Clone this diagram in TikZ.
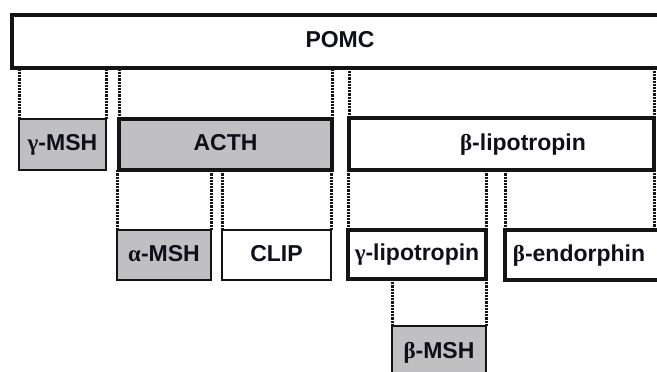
\documentclass[tikz,border=0pt]{standalone}
\usepackage{fontspec}
\setmainfont{Liberation Sans}
\newfontfamily\grk{Liberation Serif}
\newcommand{\gk}[1]{{\grk\bfseries #1}}
\definecolor{edge}{RGB}{20,20,20}
\definecolor{ink}{RGB}{15,15,25}
\definecolor{pgray}{RGB}{192,192,194}
\begin{document}
\begin{tikzpicture}[x=1pt,y=-1pt,
  lbl/.style={font=\fontsize{23}{27}\selectfont\bfseries, text=ink},
  box/.style={draw=edge, inner sep=0pt, outer sep=0pt, anchor=north west,
              text height=16.5pt, text depth=4pt, lbl},
  thickbox/.style={box, line width=3.4pt},
  thinbox/.style={box, line width=2.4pt},
  shaded/.style={fill=pgray},
  dotline/.style={draw=edge, line width=3pt, dash pattern=on 2.2pt off 1pt}]
\path[use as bounding box] (0,0) rectangle (657,372);
\clip (0,0) rectangle (657,372);

% precursor
\node[thickbox, minimum width=656pt, minimum height=53pt] (pomc) at (12,15) {POMC};

% first cleavage products
\node[thinbox, shaded, minimum width=87pt, minimum height=51pt] (gmsh) at (19,119) {\gk{γ}-MSH};
\node[thickbox, shaded, minimum width=213pt, minimum height=51pt] (acth) at (119,119) {ACTH};
\node[thickbox, minimum width=305pt, minimum height=52pt] (blip) at (349,118) {\hspace*{43pt}\gk{β}-lipotropin};

% second cleavage products
\node[thinbox, shaded, minimum width=94pt, minimum height=50pt] (amsh) at (117,230) {\gk{α}-MSH};
\node[thinbox, minimum width=109pt, minimum height=50pt] (clip) at (222,230) {CLIP};
\node[thickbox, minimum width=138pt, minimum height=49pt] (glip) at (348,230) {\gk{γ}-lipotropin};
\node[thickbox, minimum width=155pt, minimum height=50pt] (bend) at (505,230) {\hspace*{-7pt}\gk{β}-endorphin};

% third cleavage product
\node[thinbox, shaded, minimum width=94pt, minimum height=52pt] (bmsh) at (392,326) {\gk{β}-MSH};

% cleavage guides
\draw[dotline] (gmsh.north west) -- (gmsh.north west |- pomc.south);
\draw[dotline] (gmsh.north east) -- (gmsh.north east |- pomc.south);
\draw[dotline] (acth.north west) -- (acth.north west |- pomc.south);
\draw[dotline] (acth.north east) -- (acth.north east |- pomc.south);
\draw[dotline] (blip.north west) -- (blip.north west |- pomc.south);
\draw[dotline] (blip.north east) -- (blip.north east |- pomc.south);

\draw[dotline] (amsh.north west) -- (amsh.north west |- acth.south);
\draw[dotline] (amsh.north east) -- (amsh.north east |- acth.south);
\draw[dotline] (clip.north west) -- (clip.north west |- acth.south);
\draw[dotline] (clip.north east) -- (clip.north east |- acth.south);

\draw[dotline] (glip.north west) -- (glip.north west |- blip.south);
\draw[dotline] (glip.north east) -- (glip.north east |- blip.south);
\draw[dotline] (bend.north west) -- (bend.north west |- blip.south);
\draw[dotline] (blip.south east) -- (blip.south east |- bend.north);

\draw[dotline] (bmsh.north west) -- (bmsh.north west |- glip.south);
\draw[dotline] (bmsh.north east) -- (bmsh.north east |- glip.south);
\end{tikzpicture}
\end{document}
